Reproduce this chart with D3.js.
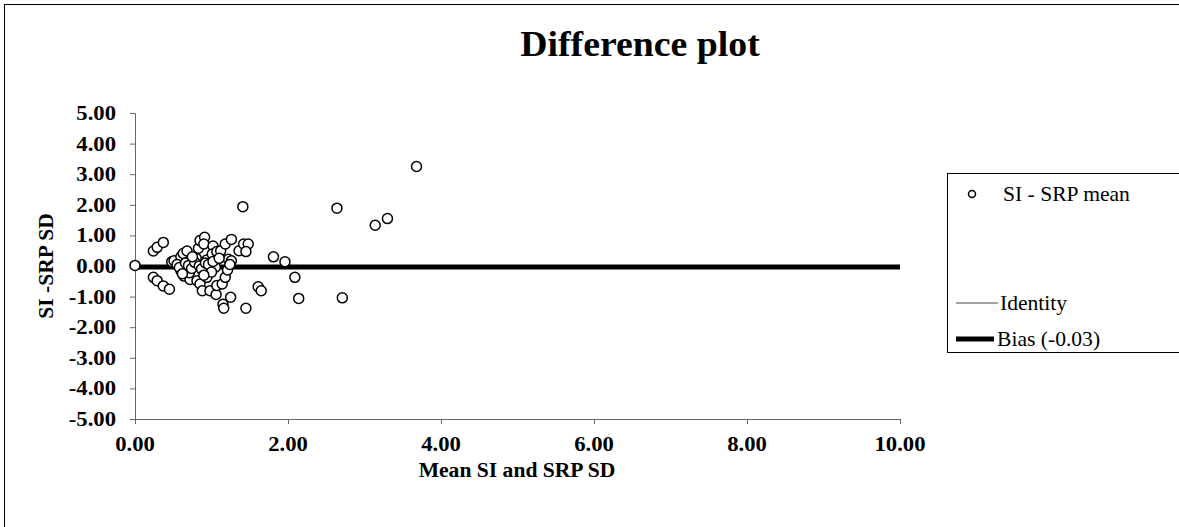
<!DOCTYPE html>
<html>
<head>
<meta charset="utf-8">
<script src="https://cdn.jsdelivr.net/npm/d3@7"></script>
<style>
  body { margin: 0; background: #fff; }
  svg { display: block; font-family: "Liberation Serif", "Times New Roman", serif; }
</style>
</head>
<body>
<svg id="chart" width="1179" height="527"></svg>
<script>
// values
var meanVals = [0.00, 1.41, 0.24, 0.29, 0.37, 0.24, 0.29, 0.37, 0.45, 0.48,
  0.51, 0.60, 0.63, 0.68, 0.60, 0.64, 0.72, 0.71, 0.80, 0.83,
  0.85, 0.91, 0.90, 0.81, 0.85, 0.88, 0.98, 1.06, 0.94, 0.94,
  1.02, 1.01, 1.07, 1.12, 1.05, 1.07, 1.14, 1.18, 1.21, 1.22,
  1.26, 1.18, 1.26, 1.15, 1.16, 1.25, 1.36, 1.42, 1.48, 1.45,
  1.45, 1.61, 1.65, 1.81, 1.96, 2.09, 2.14, 2.64, 3.14, 3.30,
  2.71, 3.68, 0.55, 0.58, 0.66, 0.70, 0.74, 0.78, 0.84, 0.87,
  0.92, 0.96, 1.00, 1.02, 0.62, 0.75, 0.90, 1.10, 1.24];
var diffVals = [0.02, 1.94, 0.49, 0.61, 0.77, -0.37, -0.48, -0.65, -0.76, 0.14,
  0.17, 0.30, 0.41, 0.49, -0.15, -0.33, -0.44, -0.22, 0.25, 0.58,
  0.83, 0.94, 0.72, -0.48, -0.59, -0.81, -0.81, -0.93, -0.37, 0.20,
  0.65, 0.39, 0.47, 0.50, -0.04, -0.64, -0.59, -0.37, -0.13, 0.22,
  0.17, 0.72, 0.87, -1.25, -1.38, -1.02, 0.50, 0.72, 0.72, 0.47,
  -1.38, -0.68, -0.81, 0.30, 0.14, -0.37, -1.06, 1.89, 1.33, 1.55,
  -1.04, 3.25, 0.05, -0.05, 0.10, 0.02, -0.08, 0.12, 0.00, -0.10,
  0.10, 0.05, -0.20, 0.15, -0.25, 0.30, -0.30, 0.25, 0.05];
var xTicks = [0, 2, 4, 6, 8, 10];
var yTicks = [5, 4, 3, 2, 1, 0, -1, -2, -3, -4, -5];
var bias = -0.03;
var identity = 0;
var legendLabels = ["SI - SRP mean", "Identity", "Bias (-0.03)"];

var svg = d3.select("#chart");
var sx = 1.08; // text in the picture is a bit wide

var x = d3.scaleLinear().domain([0, 10]).range([135, 900]);
var y = d3.scaleLinear().domain([-5, 5]).range([419, 113]);

// plain hyphen minus like the original, not d3's unicode minus
var fmt = function (v) { return v.toFixed(2); };

function wideText(g, tx, ty, anchor, size, weight, str) {
  return g.append("text")
    .attr("transform", "translate(" + tx + "," + ty + ") scale(" + sx + ",1)")
    .attr("text-anchor", anchor)
    .style("font-size", size + "px")
    .style("font-weight", weight)
    .text(str);
}

// outer frame
svg.append("rect")
  .attr("x", 4.5).attr("y", 4.5).attr("width", 1300).attr("height", 700)
  .attr("fill", "none").attr("stroke", "#000");

wideText(svg, 640, 56, "middle", 35, "bold", "Difference plot");

// axes
var xAxis = d3.axisBottom(x).tickValues(xTicks).tickSize(5).tickFormat(fmt);
var yAxis = d3.axisLeft(y).tickValues(yTicks).tickSize(5).tickFormat(fmt);

var gx = svg.append("g").attr("transform", "translate(0," + y(-5) + ")").call(xAxis);
var gy = svg.append("g").attr("transform", "translate(" + x(0) + ",0)").call(yAxis);

[gx, gy].forEach(function (g) {
  g.select(".domain").attr("stroke", "#666");
  g.selectAll(".tick line").attr("stroke", "#666");
  g.selectAll(".tick text").remove();
});

// tick labels (drawn by hand so they can be widened)
xTicks.forEach(function (t) {
  wideText(svg, x(t), 451, "middle", 21, "bold", fmt(t));
});
yTicks.forEach(function (t) {
  wideText(svg, 116, y(t) + 7, "end", 21, "bold", fmt(t));
});

wideText(svg, 517, 477, "middle", 20, "bold", "Mean SI and SRP SD");
svg.append("text")
  .attr("transform", "translate(53,266) rotate(-90) scale(" + sx + ",1)")
  .attr("text-anchor", "middle")
  .style("font-size", "20px").style("font-weight", "bold")
  .text("SI -SRP SD");

// identity + bias lines
svg.append("line")
  .attr("x1", x(0)).attr("x2", x(10))
  .attr("y1", y(identity)).attr("y2", y(identity))
  .attr("stroke", "#555").attr("stroke-width", 1);
svg.append("line")
  .attr("x1", x(0)).attr("x2", x(10))
  .attr("y1", y(bias)).attr("y2", y(bias))
  .attr("stroke", "#000").attr("stroke-width", 5);

// points
svg.selectAll(".pt").data(d3.range(meanVals.length)).enter()
  .append("circle")
  .attr("class", "pt")
  .attr("cx", i => x(meanVals[i]))
  .attr("cy", i => y(diffVals[i]))
  .attr("r", 5)
  .attr("fill", "#fff")
  .attr("stroke", "#000")
  .attr("stroke-width", 1.5);

// legend
var lg = svg.append("g");
lg.append("rect")
  .attr("x", 947.5).attr("y", 173.5).attr("width", 300).attr("height", 179)
  .attr("fill", "#fff").attr("stroke", "#000");
lg.append("circle").attr("cx", 972).attr("cy", 194).attr("r", 3.5)
  .attr("fill", "#fff").attr("stroke", "#000").attr("stroke-width", 1.5);
wideText(lg, 1003, 201, "start", 20, "normal", legendLabels[0]);
lg.append("line").attr("x1", 956).attr("x2", 998).attr("y1", 303).attr("y2", 303)
  .attr("stroke", "#444").attr("stroke-width", 1);
wideText(lg, 1000, 310, "start", 20, "normal", legendLabels[1]);
lg.append("line").attr("x1", 956).attr("x2", 994).attr("y1", 339).attr("y2", 339)
  .attr("stroke", "#000").attr("stroke-width", 5);
wideText(lg, 997, 346, "start", 20, "normal", legendLabels[2]);
</script>
</body>
</html>
